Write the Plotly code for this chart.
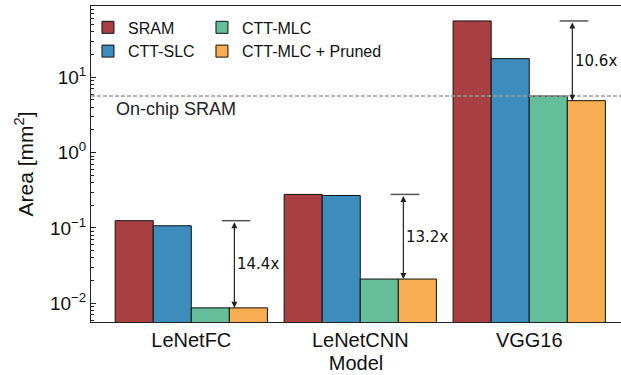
import plotly.graph_objects as go
import math

# ---------------- data ----------------
categories = ["LeNetFC", "LeNetCNN", "VGG16"]
sram = [0.125, 0.279, 56.0]
ctt_slc = [0.107, 0.270, 17.7]
ctt_mlc = [0.0087, 0.021, 5.65]
ctt_mlc_pruned = [0.0087, 0.021, 4.9]
ratio_labels = ["14.4x", "13.2x", "10.6x"]
onchip_sram = 5.65
ytick_vals = [0.01, 0.1, 1, 10]
ytick_text = ["10<sup>−2</sup>", "10<sup>−1</sup>", "10<sup>0</sup>", "10<sup>1</sup>"]
minor_vals = [k * 10.0 ** e for e in range(-3, 2) for k in range(2, 10)]

series_names = ["SRAM", "CTT-SLC", "CTT-MLC", "CTT-MLC + Pruned"]
series_vals = [sram, ctt_slc, ctt_mlc, ctt_mlc_pruned]
colors = ["#A83F40", "#3D8DBC", "#63BE99", "#F8AD52"]
legends = ["legend", "legend", "legend2", "legend2"]

FONT = "Liberation Sans, Arial, sans-serif"

fig = go.Figure()
for name, vals, col, lg in zip(series_names, series_vals, colors, legends):
    fig.add_trace(go.Bar(
        x=categories, y=vals, name=name,
        marker=dict(color=col, line=dict(color="#111111", width=1)),
        legend=lg,
    ))

shapes = []
annotations = []
# on-chip SRAM dashed line
shapes.append(dict(type="line", xref="paper", x0=0, x1=1, yref="y",
                   y0=onchip_sram, y1=onchip_sram,
                   line=dict(color="#999999", width=1.3, dash="4px,2px")))
annotations.append(dict(text="On-chip SRAM", xref="x", x=-0.457, yref="y",
                        y=math.log10(onchip_sram), xanchor="left", yanchor="top",
                        yshift=-1, showarrow=False,
                        font=dict(family=FONT, size=18, color="#222222")))

arrow_off = 0.255
for i, (hi, lo, lab) in enumerate(zip(sram, ctt_mlc_pruned, ratio_labels)):
    xa = i + arrow_off
    shapes.append(dict(type="line", xref="x", x0=i + 0.18, x1=i + 0.35,
                       yref="y", y0=hi, y1=hi,
                       line=dict(color="#555555", width=1.5)))
    annotations.append(dict(x=xa, y=math.log10(lo), ax=xa, ay=math.log10(hi),
                            xref="x", yref="y", axref="x", ayref="y",
                            text="", showarrow=True, arrowhead=2, arrowsize=1,
                            arrowwidth=1.2, arrowcolor="#222222",
                            arrowside="end+start", standoff=0, startstandoff=0))
    annotations.append(dict(x=xa, y=(math.log10(lo) + math.log10(hi)) / 2,
                            xref="x", yref="y", text=lab, showarrow=False,
                            xanchor="left", yanchor="middle", xshift=1,
                            font=dict(family="DejaVu Sans", size=15, color="#111111")))

fig.update_layout(
    width=621, height=375,
    margin=dict(l=91, r=0, t=6, b=53, pad=0),
    paper_bgcolor="white", plot_bgcolor="white",
    barmode="group", bargap=0.099, bargroupgap=0,
    font=dict(family=FONT, size=19, color="#111111"),
    shapes=shapes, annotations=annotations,
    legend=dict(x=-0.0057, y=0.986, xanchor="left", yanchor="top",
                bgcolor="rgba(0,0,0,0)", borderwidth=0,
                font=dict(family=FONT, size=16, color="#111111")),
    legend2=dict(x=0.2094, y=0.986, xanchor="left", yanchor="top",
                 bgcolor="rgba(0,0,0,0)", borderwidth=0,
                 font=dict(family=FONT, size=16, color="#111111")),
    xaxis=dict(range=[-0.5935, 2.543], showline=True, linecolor="#222222",
               linewidth=1, mirror=True, ticks="", showgrid=False,
               tickfont=dict(family=FONT, size=20),
               title=dict(text="Model", font=dict(family=FONT, size=20), standoff=5)),
    yaxis=dict(type="log", range=[-2.248, 1.9465], showline=True,
               linecolor="#222222", linewidth=1, mirror=False,
               ticks="inside", ticklen=5, tickcolor="#222222",
               tickvals=ytick_vals, ticktext=ytick_text, showgrid=False,
               minor=dict(ticks="inside", ticklen=3, tickcolor="#222222",
                          tickvals=minor_vals, showgrid=False),
               tickfont=dict(family=FONT, size=19),
               title=dict(text="Area [mm<sup>2</sup>]", font=dict(family=FONT, size=21),
                          standoff=10)),
)

fig.write_html("out.html")
